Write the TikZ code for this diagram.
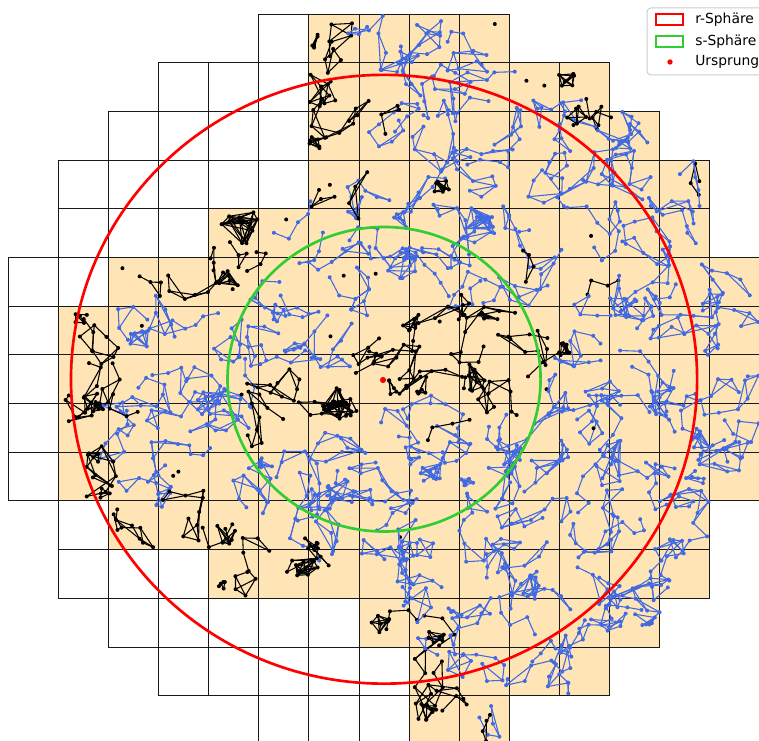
\documentclass[tikz,border=0pt]{standalone}
\usepackage{fontspec}
\setmainfont{DejaVu Sans}
\definecolor{blueN}{RGB}{65,105,225}
\definecolor{cellfill}{RGB}{255,228,181}
\definecolor{sgreen}{RGB}{50,205,50}
\tikzset{
  edge/.style={line width=0.8pt, line cap=round},
  gridline/.style={draw=black!90, line width=0.95pt, line cap=rect},
  legtext/.style={anchor=west, inner sep=0pt, font=\fontsize{10.4}{12}\selectfont},
}
\newcommand\GX[1]{floor(8.3+50.1*(#1))+0.5}
\newcommand\GY[1]{floor(14+48.7*(#1))+0.5}
\newcount\wkcnt
\newcommand\mywalk[5]{%
  \pgfmathsetmacro\wMx{#1+25}\pgfmathsetmacro\wMy{#2+24}%
  \pgfmathsetmacro\wPx{#1+25+17*rand}%
  \pgfmathsetmacro\wPy{#2+24+17*rand}%
  \pgfmathsetmacro\wD{360*rnd}%
  \let\wQx\wPx \let\wQy\wPy
  \pgfmathsetmacro\wLo{#1-12}\pgfmathsetmacro\wHi{#1+62}%
  \pgfmathsetmacro\wTo{#2-12}\pgfmathsetmacro\wBo{#2+61}%
  \fill[#4] (\wPx,\wPy) circle[radius=1.5pt];
  \wkcnt=0
  \loop\ifnum\wkcnt<#3\relax
    \advance\wkcnt by 1
    \pgfmathsetmacro\wD{\wD+95*rand}%
    \pgfmathsetmacro\wL{10+11*rnd}%
    \pgfmathsetmacro\wNx{\wPx+\wL*cos(\wD)}%
    \pgfmathsetmacro\wNy{\wPy+\wL*sin(\wD)}%
    \pgfmathsetmacro\wNx{(\wNx<\wLo) ? (2*\wLo-(\wNx)) : ((\wNx>\wHi) ? (2*\wHi-(\wNx)) : \wNx)}%
    \pgfmathsetmacro\wNy{(\wNy<\wTo) ? (2*\wTo-(\wNy)) : ((\wNy>\wBo) ? (2*\wBo-(\wNy)) : \wNy)}%
    \pgfmathtruncatemacro\wCi{floor((\wNx-8.3)/50.1)}%
    \pgfmathtruncatemacro\wRi{floor((\wNy-14)/48.7)}%
    \ifcsname FC-\wRi-\wCi\endcsname\else
      \pgfmathsetmacro\wG{atan2(\wMy-\wPy,\wMx-\wPx)+40*rand}%
      \pgfmathsetmacro\wNx{\wPx+\wL*cos(\wG)}%
      \pgfmathsetmacro\wNy{\wPy+\wL*sin(\wG)}%
    \fi
    \pgfmathsetmacro\wD{atan2(\wNy-\wPy,\wNx-\wPx)}%
    \draw[#4,edge] (\wPx,\wPy) -- (\wNx,\wNy);
    \pgfmathsetmacro\wR{(rnd<#5) ? 1 : 0}%
    \ifdim\wR pt>0.5pt \ifnum\wkcnt>1 \draw[#4,edge] (\wQx,\wQy) -- (\wNx,\wNy);\fi\fi
    \fill[#4] (\wNx,\wNy) circle[radius=1.5pt];
    \let\wQx\wPx \let\wQy\wPy
    \let\wPx\wNx \let\wPy\wNy
  \repeat
}
\newcommand\walkB[2]{\mywalk{#1}{#2}{11}{blueN}{0.4}}
\newcommand\walkb[2]{\mywalk{#1}{#2}{4}{blueN}{0.3}}
\newcommand\walkK[2]{\mywalk{#1}{#2}{9}{black}{0.5}}
\newcommand\walkk[2]{\mywalk{#1}{#2}{3}{black}{0.3}}
\newcommand\walkd[2]{\mywalk{#1}{#2}{0}{black}{0}}
\newcommand\myclump[5]{%
  \foreach \k in {1,...,#4}{%
    \pgfmathsetmacro\tA{360*rnd}\pgfmathsetmacro\tR{#3*sqrt(rnd)}%
    \pgfmathsetmacro\tX{#1+\tR*cos(\tA)}\pgfmathsetmacro\tY{#2+0.85*\tR*sin(\tA)}%
    \expandafter\xdef\csname cpx\k\endcsname{\tX}%
    \expandafter\xdef\csname cpy\k\endcsname{\tY}%
  }%
  \foreach \k in {1,...,#4}{%
    \foreach \j in {1,...,#4}{%
      \ifnum\j>\k\relax
        \pgfmathsetmacro\dd{rnd}%
        \ifdim\dd pt<0.75pt
          \edef\aX{\csname cpx\k\endcsname}\edef\aY{\csname cpy\k\endcsname}%
          \edef\bX{\csname cpx\j\endcsname}\edef\bY{\csname cpy\j\endcsname}%
          \draw[#5,edge] (\aX,\aY) -- (\bX,\bY);
        \fi
      \fi}}%
  \foreach \k in {1,...,#4}{%
    \edef\aX{\csname cpx\k\endcsname}\edef\aY{\csname cpy\k\endcsname}%
    \fill[#5] (\aX,\aY) circle[radius=1.5pt];}%
}
\begin{document}
\begin{tikzpicture}[x=0.75pt,y=-0.75pt]
\useasboundingbox (0,0) rectangle (759,741);
\clip (0,0) rectangle (759,741);
% filled cells
\foreach \r/\ca/\cb in {0/6/9,1/6/11,2/6/12,3/6/13,4/4/13,5/2/14,6/1/14,7/1/14,8/1/14,9/1/14,10/2/13,11/4/13,12/7/12,13/8/11,14/8/9}{
  \foreach \c in {\ca,...,\cb}{
    \expandafter\xdef\csname FC-\r-\c\endcsname{1}%
    \fill[cellfill] ({\GX{\c}},{\GY{\r}}) rectangle ({\GX{\c+1}},{\GY{\r+1}});
  }}
% grid: vertical segments per row
\foreach \r/\ca/\cb in {0/5/9,1/3/11,2/2/12,3/1/13,4/1/13,5/0/14,6/0/14,7/0/14,8/0/14,9/0/14,10/1/13,11/1/13,12/2/12,13/3/11,14/5/9}{
  \pgfmathtruncatemacro\cc{\cb+1}
  \foreach \c in {\ca,...,\cc}{
    \draw[gridline] ({\GX{\c}},{\GY{\r}}) -- ({\GX{\c}},{\GY{\r+1}});
  }}
% grid: horizontal lines
\foreach \k/\ca/\cb in {0/5/9,1/3/11,2/2/12,3/1/13,4/1/13,5/0/14,6/0/14,7/0/14,8/0/14,9/0/14,10/0/14,11/1/13,12/1/13,13/2/12,14/3/11,15/5/9}{
  \draw[gridline] ({\GX{\ca}},{\GY{\k}}) -- ({\GX{\cb+1}},{\GY{\k}});
}
% graph texture
\pgfmathsetseed{20231}
\foreach \r/\c/\wt in {
0/6/K,0/7/B,0/8/B,0/9/B,0/9/d,
1/6/K,1/7/B,1/8/B,1/9/B,1/10/d,1/10/d,1/11/k,
2/6/K,2/7/B,2/7/k,2/8/B,2/9/B,2/10/B,2/11/k,2/11/b,2/12/B,
3/6/k,3/6/d,3/7/B,3/7/k,3/8/B,3/9/B,3/10/B,3/11/B,3/12/B,3/13/k,3/13/b,
4/4/k,4/5/d,4/5/b,4/6/B,4/7/B,4/8/B,4/9/B,4/10/B,4/11/B,4/11/d,4/12/B,4/13/B,
5/2/d,5/2/k,5/3/K,5/4/k,5/4/d,5/5/B,5/6/B,5/6/d,5/7/B,5/7/d,5/8/B,5/9/B,5/10/B,5/10/k,5/11/k,5/11/b,5/12/B,5/13/B,5/14/B,
6/1/K,6/2/b,6/2/d,6/3/B,6/4/B,6/5/B,6/6/B,6/6/d,6/7/K,6/8/K,6/8/d,6/9/K,6/10/K,6/11/B,6/12/B,6/13/B,6/14/B,
7/1/K,7/2/B,7/3/B,7/4/B,7/4/d,7/5/K,7/6/K,7/7/K,7/8/K,7/9/K,7/10/k,7/10/d,7/11/B,7/12/B,7/13/B,7/14/B,
8/1/K,8/2/B,8/2/k,8/3/B,8/4/B,8/5/K,8/6/B,8/6/k,8/7/B,8/8/B,8/8/k,8/9/B,8/10/B,8/11/B,8/11/d,8/12/B,8/13/B,8/14/B,
9/1/K,9/2/B,9/3/B,9/3/d,9/3/d,9/4/B,9/5/B,9/6/B,9/7/B,9/8/B,9/9/B,9/10/B,9/11/B,9/12/B,9/13/B,9/14/B,
10/2/K,10/3/K,10/4/k,10/5/B,10/6/B,10/7/B,10/7/d,10/8/B,10/9/B,10/10/B,10/11/B,10/12/B,10/13/B,
11/4/K,11/5/K,11/6/k,11/7/B,11/8/B,11/9/B,11/10/B,11/11/B,11/12/B,11/13/B,
12/7/k,12/8/k,12/8/b,12/9/B,12/10/B,12/11/B,12/12/B,
13/8/K,13/8/b,13/9/B,13/10/B,13/11/B,
14/8/K,14/9/b,14/9/k}{
  \pgfmathsetmacro\cx{8.3+50.1*\c}
  \pgfmathsetmacro\cy{14+48.7*\r}
  \csname walk\wt\endcsname{\cx}{\cy}
}
% dense clumps
\foreach \px/\py/\pr/\pm/\pc in {
240/226/24/10/black, 318/140/10/7/black, 320/42/9/5/black, 440/185/11/7/black,
570/78/13/6/black, 580/116/13/6/black, 227/280/13/7/black, 82/318/10/5/black,
100/408/10/6/black, 92/457/9/6/black, 338/402/20/11/black, 470/378/17/8/black,
412/322/12/7/black, 560/350/10/6/black, 305/567/13/8/black, 223/535/13/7/black,
380/622/13/7/black, 438/637/12/6/black, 425/712/12/7/black, 104/492/8/4/black,
220/587/8/5/black, 392/388/10/5/black, 420/385/12/6/black, 375/355/12/5/black,
485/320/14/6/black,
478/220/17/10/blueN, 142/340/14/8/blueN, 278/312/14/6/blueN, 295/345/13/6/blueN,
265/463/11/7/blueN, 626/145/11/6/blueN, 700/440/16/8/blueN, 695/480/12/6/blueN,
530/588/15/8/blueN, 432/470/16/8/blueN, 468/478/10/6/blueN, 453/612/10/5/blueN,
645/620/12/6/blueN, 405/217/12/6/blueN, 630/305/12/5/blueN, 335/488/15/7/blueN}{
  \myclump{\px}{\py}{\pr}{\pm}{\pc}
}
% spheres
\draw[red, line width=2pt] (384.05,379.25) ellipse [x radius=234.8pt, y radius=228.3pt];
\draw[sgreen, line width=2pt] (384.05,379.25) ellipse [x radius=117.4pt, y radius=114.2pt];
\fill[red] (383,380) circle[radius=2.3pt];
% legend
\draw[gray!40, fill=white, fill opacity=0.85, line width=0.75pt, rounded corners=3pt] (647,8) rectangle (790,75);
\draw[red, line width=1.6pt, fill=white] (656,14) rectangle (683,25);
\draw[sgreen, line width=1.6pt, fill=white] (656,36) rectangle (683,47);
\fill[red] (670,62) circle[radius=2pt];
\node[legtext] (lr) at (695,20) {r-Sphäre};
\node[legtext] (ls) at (695,41.5) {s-Sphäre};
\node[legtext] (lu) at (695,61.5) {Ursprung};
\end{tikzpicture}
\end{document}
